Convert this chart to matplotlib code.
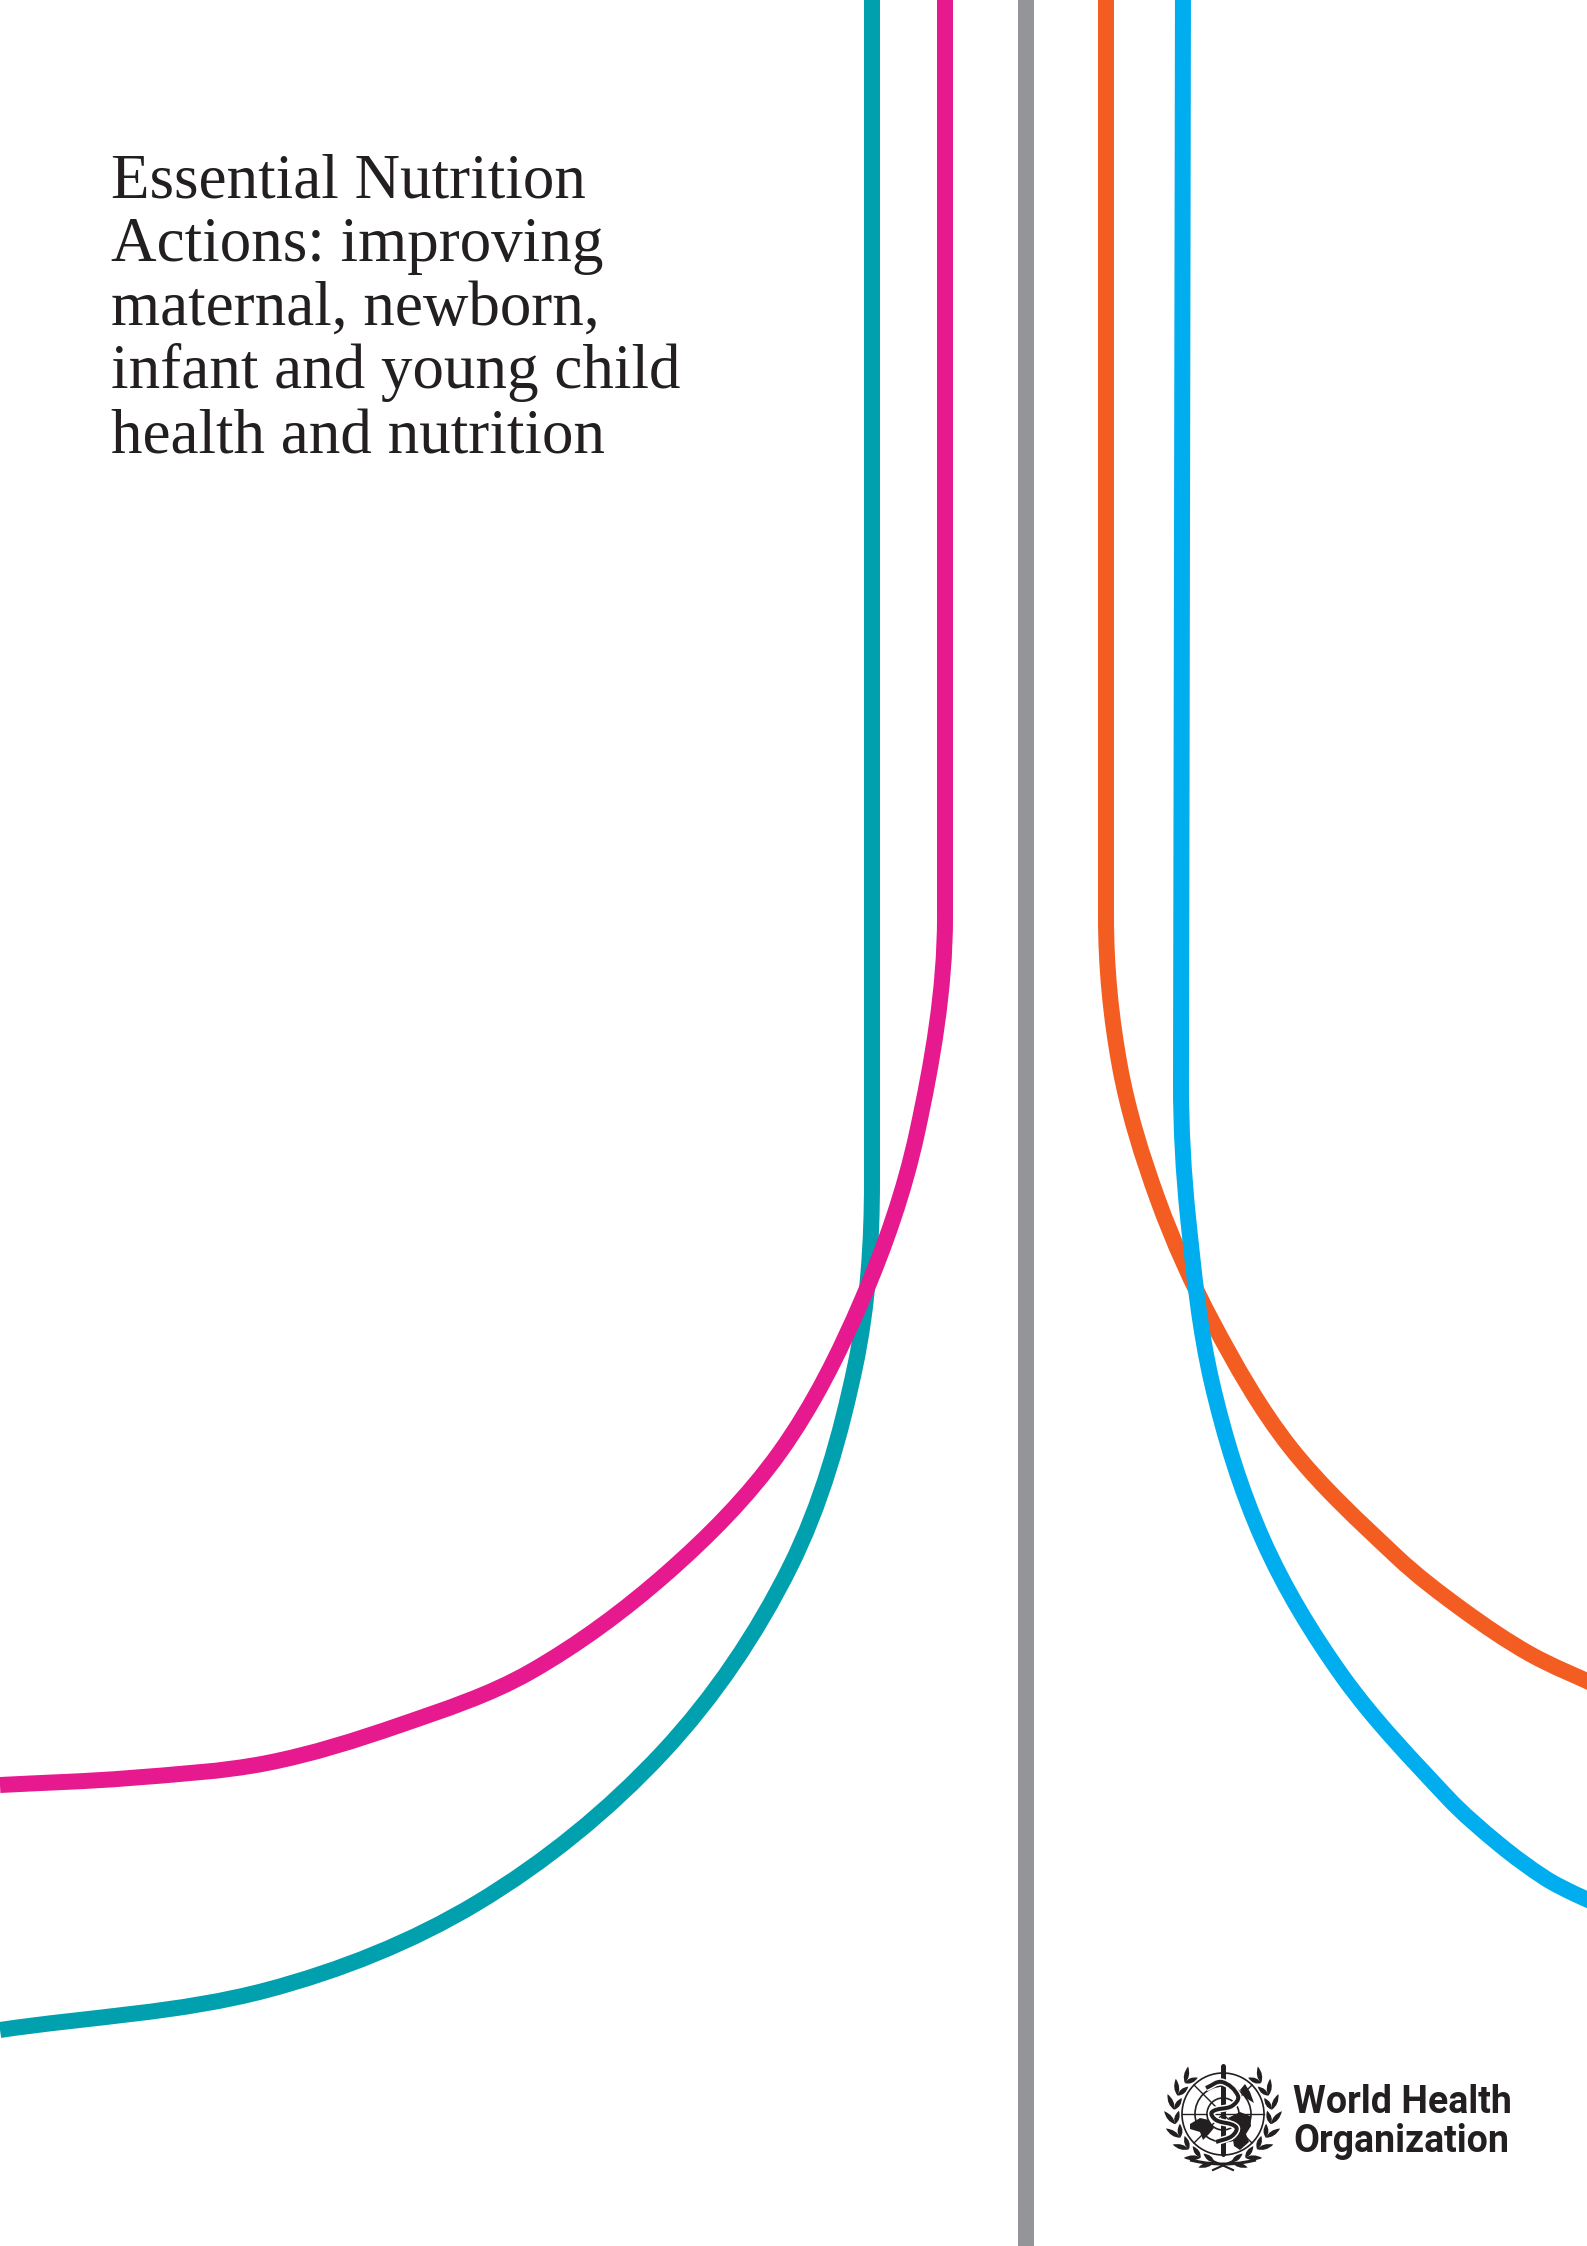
import numpy as np
import matplotlib
matplotlib.use("Agg")
import matplotlib.pyplot as plt
from matplotlib.path import Path
from matplotlib.patches import PathPatch, Circle, Polygon

W, H = 1587, 2246
PX = 72 / 100  # points per pixel at dpi 100

# ---- data (pixels from the top-left) ----
teal_x = [872, 872, 855, 790, 663, 477, 267, 0]
teal_y = [-20, 1180, 1367, 1567, 1752, 1903, 1990, 2030]
magenta_x = [945, 945, 917, 862, 780, 667, 530, 400, 267, 130, 0]
magenta_y = [-20, 917, 1133, 1300, 1452, 1573, 1672, 1725, 1763, 1778, 1785]
orange_x = [1106, 1106, 1120, 1158, 1213, 1290, 1397, 1463, 1530, 1600]
orange_y = [-20, 917, 1067, 1200, 1323, 1447, 1557, 1610, 1654, 1687]
blue_x = [1183, 1181, 1188, 1212, 1263, 1343, 1447, 1500, 1545, 1575, 1600]
blue_y = [-20, 1083, 1217, 1383, 1540, 1677, 1797, 1845, 1878, 1894, 1905]
divider_x = [1026, 1026]
divider_y = [-20, 2266]

title_lines = ["Essential Nutrition", "Actions: improving", "maternal, newborn,",
               "infant and young child", "health and nutrition"]
title_baselines = [197, 261, 325, 388, 453]
org_lines = ["World Health", "Organization"]
org_baselines = [2113, 2152]

# ---- styles ----
TEAL, MAGENTA, ORANGE, BLUE, GREY = "#00A0AE", "#E6198F", "#F45D22", "#00AEEF", "#939598"
INK = "#231F20"
LW = 16 * PX


def smooth_path(xs, ys, straight_start=False):
    """Curve through the read points as cubic Bezier segments.
    With straight_start the first segment is a straight run and the curve leaves it tangentially."""
    p = np.column_stack([xs, ys]).astype(float)
    n = len(p)
    unit = lambda v: v / max(np.hypot(*v), 1e-6)
    tang = [unit(p[min(i + 1, n - 1)] - p[max(i - 1, 0)]) for i in range(n)]
    verts, codes = [p[0]], [Path.MOVETO]
    start = 0
    if straight_start:
        verts.append(p[1])
        codes.append(Path.LINETO)
        tang[1] = unit(p[1] - p[0])
        start = 1
    for i in range(start, n - 1):
        seg = np.hypot(*(p[i + 1] - p[i]))
        verts += [p[i] + tang[i] * seg / 3, p[i + 1] - tang[i + 1] * seg / 3, p[i + 1]]
        codes += [Path.CURVE4] * 3
    return Path(verts, codes)


def leaf(ax, x, y, dx, dy, length, width):
    """Lens-shaped laurel leaf starting at (x, y) and pointing along (dx, dy)."""
    nx, ny = -dy, dx
    mx, my = x + dx * length * 0.45, y + dy * length * 0.45
    ex, ey = x + dx * length, y + dy * length
    verts = [(x, y), (mx + nx * width, my + ny * width), (ex, ey), (mx - nx * width, my - ny * width), (x, y)]
    codes = [Path.MOVETO, Path.CURVE3, Path.CURVE3, Path.CURVE3, Path.CURVE3]
    ax.add_patch(PathPatch(Path(verts, codes), fc=INK, ec="none", zorder=5))


fig = plt.figure(figsize=(W / 100, H / 100), dpi=100, facecolor="white")
ax = fig.add_axes([0, 0, 1, 1])
ax.set_xlim(0, W)
ax.set_ylim(H, 0)
ax.axis("off")

for xs, ys, c, z in [(teal_x, teal_y, TEAL, 2), (magenta_x, magenta_y, MAGENTA, 3),
                     (orange_x, orange_y, ORANGE, 2), (blue_x, blue_y, BLUE, 3)]:
    ax.add_patch(PathPatch(smooth_path(xs, ys, True), fc="none", ec=c, lw=LW, capstyle="butt", zorder=z))
ax.plot(divider_x, divider_y, color=GREY, lw=LW, solid_capstyle="butt", zorder=2)

for line, y in zip(title_lines, title_baselines):
    ax.text(111, y, line, family="Liberation Serif", fontsize=63 * PX, color=INK, va="baseline", ha="left")

for line, y in zip(org_lines, org_baselines):
    ax.text(1293, y, line, family="Roboto", weight="bold",
            fontsize=37.5 * PX, color=INK, va="baseline", ha="left")

# ---- emblem ----
cx, cy, R = 1223, 2114, 41
for r in (R, 28, 16):
    ax.add_patch(Circle((cx, cy), r, fc="none", ec=INK, lw=1.2, zorder=5))
for a in np.deg2rad([0, 45, 90, 135]):
    ax.plot([cx - R * np.cos(a), cx + R * np.cos(a)], [cy - R * np.sin(a), cy + R * np.sin(a)],
            color=INK, lw=1.0, zorder=5)
# land masses
ax.add_patch(Polygon([(1190, 2124), (1200, 2118), (1209, 2120), (1214, 2128), (1209, 2134), (1203, 2140),
                      (1200, 2132), (1190, 2129)], fc=INK, ec="none", zorder=6))
ax.add_patch(Polygon([(1228, 2118), (1240, 2112), (1250, 2116), (1251, 2126), (1246, 2134), (1249, 2142),
                      (1240, 2150), (1234, 2146), (1232, 2134), (1236, 2126)], fc=INK, ec="none", zorder=6))
ax.add_patch(Polygon([(1240, 2090), (1245, 2084), (1250, 2092), (1254, 2103), (1246, 2098)], fc=INK, ec="none", zorder=6))
# staff
ax.plot([1223, 1223], [2066, 2154], color=INK, lw=5 * PX, solid_capstyle="round", zorder=7)
# snake
snake = smooth_path([1206, 1222, 1238, 1232, 1212, 1216, 1236, 1232, 1216],
                    [2088, 2082, 2096, 2106, 2112, 2120, 2127, 2136, 2142])
ax.add_patch(PathPatch(snake, fc="none", ec="white", lw=7 * PX, zorder=8))
ax.add_patch(PathPatch(snake, fc="none", ec=INK, lw=4 * PX, zorder=9))
# laurel
stem_r = R + 8
for side in (-1, 1):
    for a in np.arange(80, -50, -17):
        ang = np.deg2rad(a)
        bx = cx + side * stem_r * np.cos(ang)
        by = cy + stem_r * np.sin(ang)
        tx, ty = side * np.sin(ang), -np.cos(ang)  # along the arc, upward
        for tilt, ln in ((-28, 14), (28, 17)):
            t = np.deg2rad(tilt * side)
            dx = tx * np.cos(t) - ty * np.sin(t)
            dy = tx * np.sin(t) + ty * np.cos(t)
            leaf(ax, bx, by, dx, dy, ln, 5.0)
# ribbon
ax.add_patch(PathPatch(smooth_path([1190, 1206, 1223, 1240, 1256], [2160, 2163, 2164, 2163, 2160]),
                       fc="none", ec=INK, lw=3 * PX, zorder=5))
ax.plot([1213, 1233], [2170, 2161], color=INK, lw=1.5, zorder=5)
ax.plot([1213, 1233], [2161, 2170], color=INK, lw=1.5, zorder=5)

fig.savefig("out.png", dpi=100, facecolor="white")
